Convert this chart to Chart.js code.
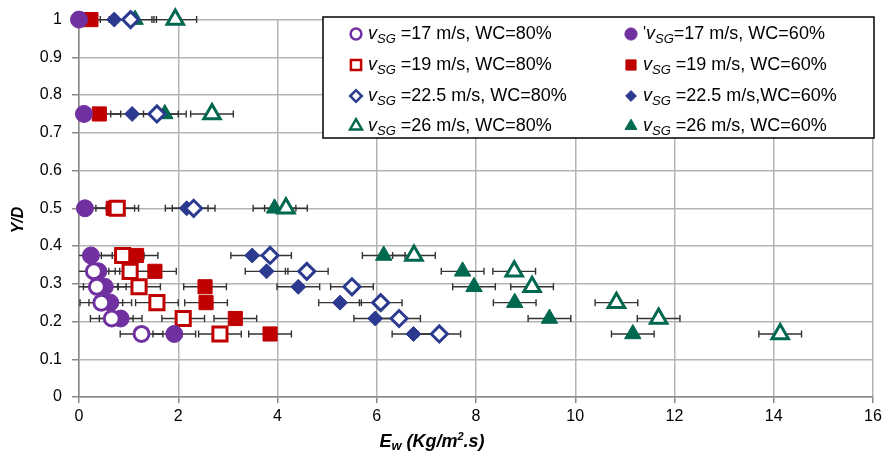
<!DOCTYPE html>
<html>
<head>
<meta charset="utf-8">
<script src="https://cdn.jsdelivr.net/npm/chart.js@4.4.0/dist/chart.umd.min.js"></script>
<style>
html, body { margin: 0; padding: 0; background: #fff; }
#wrap { width: 887px; height: 460px; }
</style>
</head>
<body>
<div id="wrap"><canvas id="c"></canvas></div>
<script>
// Y/D levels shared by all series
const yLevels = [1, 0.75, 0.5, 0.375, 0.333, 0.292, 0.25, 0.208, 0.167];

// E_w values (null = no visible point)
const v17wc80 = [null, null, null, null, 0.30, 0.36, 0.45, 0.66, 1.26];
const v17wc60 = [0.00, 0.10, 0.12, 0.24, 0.39, 0.52, 0.63, 0.84, 1.92];
const v19wc80 = [null, null, 0.77, 0.88, 1.03, 1.21, 1.57, 2.10, 2.84];
const v19wc60 = [0.24, 0.41, 0.69, 1.16, 1.53, 2.54, 2.56, 3.15, 3.85];
const v225wc80 = [1.04, 1.57, 2.31, 3.85, 4.59, 5.50, 6.08, 6.45, 7.26];
const v225wc60 = [0.71, 1.07, 2.17, 3.49, 3.78, 4.42, 5.26, 5.97, 6.74];
const v26wc80 = [1.94, 2.68, 4.17, 6.75, 8.77, 9.13, 10.83, 11.68, 14.13];
const v26wc60 = [1.13, 1.73, 3.94, 6.14, 7.73, 7.96, 8.78, 9.48, 11.16];

// horizontal error bar half-width (Kg/m2.s)
const errX = 0.43;

const xTicks = [0, 16, 2];
const yTicks = [0, 1, 0.1];

const legendText = [
  ' =17 m/s, WC=80%', '=17 m/s, WC=60%',
  ' =19 m/s, WC=80%', ' =19 m/s, WC=60%',
  ' =22.5 m/s, WC=80%', ' =22.5 m/s,WC=60%',
  ' =26 m/s, WC=80%', ' =26 m/s, WC=60%'
];

const PURPLE = '#7030A0', RED = '#C00000', BLUE = '#2B3A8E', GREEN = '#00684F';
const FONT = "'Liberation Sans', Arial, sans-serif";

function pts(xs) {
  const out = [];
  xs.forEach((x, i) => { if (x !== null) out.push({ x: x, y: yLevels[i] }); });
  return out;
}

function ds(xs, style, color, open, r) {
  return {
    data: pts(xs),
    pointStyle: style,
    pointRadius: r,
    pointBackgroundColor: open ? '#fff' : color,
    pointBorderColor: color,
    pointBorderWidth: open ? 3 : 1,
    showLine: false,
    clip: false
  };
}

const datasets = [
  ds(v26wc60, 'triangle', GREEN, false, 9.5),
  ds(v26wc80, 'triangle', GREEN, true, 9.5),
  ds(v225wc60, 'rectRot', BLUE, false, 7.5),
  ds(v225wc80, 'rectRot', BLUE, true, 8),
  ds(v19wc60, 'rect', RED, false, 10),
  ds(v19wc80, 'rect', RED, true, 10),
  ds(v17wc60, 'circle', PURPLE, false, 8.5),
  ds(v17wc80, 'circle', PURPLE, true, 7.5)
];
// draw order: first array entry at the bottom
datasets.forEach((d, i) => { d.order = datasets.length - i; });

const errorBars = {
  id: 'errorBars',
  beforeDatasetsDraw(chart) {
    const ctx = chart.ctx, xs = chart.scales.x, ys = chart.scales.y;
    ctx.save();
    ctx.strokeStyle = '#333';
    ctx.lineWidth = 1.4;
    chart.data.datasets.forEach(d => {
      d.data.forEach(p => {
        const x0 = xs.getPixelForValue(Math.max(0, p.x - errX));
        const x1 = xs.getPixelForValue(p.x + errX);
        const y = ys.getPixelForValue(p.y);
        ctx.beginPath();
        ctx.moveTo(x0, y); ctx.lineTo(x1, y);
        if (p.x - errX > 0) { ctx.moveTo(x0, y - 3.5); ctx.lineTo(x0, y + 3.5); }
        ctx.moveTo(x1, y - 3.5); ctx.lineTo(x1, y + 3.5);
        ctx.stroke();
      });
    });
    ctx.restore();
  }
};

function rich(ctx, x, y, parts) {
  parts.forEach(p => {
    ctx.font = p.f;
    ctx.fillText(p.t, x, y + (p.dy || 0));
    x += ctx.measureText(p.t).width;
  });
  return x;
}

const extras = {
  id: 'extras',
  afterDraw(chart) {
    const ctx = chart.ctx;
    ctx.save();
    // legend box
    ctx.fillStyle = '#fff';
    ctx.fillRect(323, 17, 551, 121);
    ctx.strokeStyle = '#000';
    ctx.lineWidth = 1.5;
    ctx.strokeRect(323, 17, 551, 121);
    const order = [7, 6, 5, 4, 3, 2, 1, 0];
    const rowsY = [34, 65, 96, 126];
    const colX = [356, 631];
    order.forEach((di, k) => {
      const d = chart.data.datasets[di];
      const row = Math.floor(k / 2), col = k % 2;
      const mx = colX[col], my = rowsY[row];
      ctx.fillStyle = d.pointBackgroundColor;
      ctx.strokeStyle = d.pointBorderColor;
      ctx.lineWidth = d.pointBorderWidth === 3 ? 2.5 : 1;
      Chart.helpers.drawPoint(ctx, {
        pointStyle: d.pointStyle,
        radius: d.pointRadius * 0.72,
        rotation: 0,
        borderWidth: ctx.lineWidth
      }, mx, my);
      ctx.fillStyle = '#000';
      ctx.textBaseline = 'middle';
      ctx.textAlign = 'left';
      const pre = (k === 1) ? [{ t: "'", f: '16px ' + FONT }] : [];
      rich(ctx, mx + 12, my, pre.concat([
        { t: 'v', f: 'italic 18px ' + FONT },
        { t: 'SG', f: 'italic 13px ' + FONT, dy: 5 },
        { t: legendText[k], f: '18px ' + FONT }
      ]));
    });
    // axis titles
    ctx.fillStyle = '#000';
    ctx.textBaseline = 'middle';
    ctx.textAlign = 'left';
    const tParts = [
      { t: 'E', f: 'bold italic 18px ' + FONT },
      { t: 'w', f: 'bold italic 13px ' + FONT, dy: 4 },
      { t: ' (Kg/m', f: 'bold italic 18px ' + FONT },
      { t: '2', f: 'bold italic 11px ' + FONT, dy: -5 },
      { t: '.s)', f: 'bold italic 18px ' + FONT }
    ];
    let w = 0;
    tParts.forEach(p => { ctx.font = p.f; w += ctx.measureText(p.t).width; });
    rich(ctx, 432 - w / 2, 442, tParts);
    ctx.translate(19, 220);
    ctx.rotate(-Math.PI / 2);
    ctx.textAlign = 'center';
    ctx.font = 'bold italic 16px ' + FONT;
    ctx.fillText('Y/D', 0, 0);
    ctx.restore();
  }
};

new Chart(document.getElementById('c'), {
  type: 'scatter',
  data: { datasets: datasets },
  plugins: [errorBars, extras],
  options: {
    responsive: true,
    maintainAspectRatio: false,
    animation: false,
    layout: { padding: { top: 14, right: 14, left: 0, bottom: 0 } },
    plugins: { legend: { display: false }, tooltip: { enabled: false } },
    scales: {
      x: {
        type: 'linear', min: xTicks[0], max: xTicks[1],
        ticks: { stepSize: xTicks[2], color: '#000', padding: 4, font: { family: FONT, size: 16 } },
        grid: { color: '#b4b4b4', lineWidth: 1.5, tickLength: 6, tickColor: '#888' },
        border: { color: '#888', width: 1.5 },
        afterFit: s => { s.height = 63; }
      },
      y: {
        type: 'linear', min: yTicks[0], max: yTicks[1],
        ticks: {
          stepSize: yTicks[2], color: '#000', padding: 10, font: { family: FONT, size: 16 },
          callback: v => String(+v.toFixed(1))
        },
        grid: { color: '#b4b4b4', lineWidth: 1.5, tickLength: 7, tickColor: '#888' },
        border: { color: '#888', width: 1.5 },
        afterFit: s => { s.width = 79; }
      }
    }
  }
});
</script>
</body>
</html>
